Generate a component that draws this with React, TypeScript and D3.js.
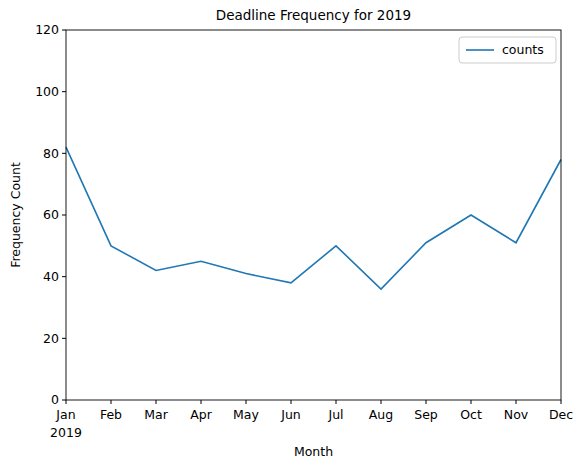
import * as d3 from 'd3'

const months = ['Jan', 'Feb', 'Mar', 'Apr', 'May', 'Jun', 'Jul', 'Aug', 'Sep', 'Oct', 'Nov', 'Dec']
const counts = [82, 50, 42, 45, 41, 38, 50, 36, 51, 60, 51, 78]
const yTicks = [0, 20, 40, 60, 80, 100, 120]

const W = 585
const H = 469
const m = { left: 66, right: 561, top: 30, bottom: 400 }
const font = 'DejaVu Sans, sans-serif'
const blue = '#1f77b4'

export default function App() {
  const x = d3.scalePoint<string>().domain(months).range([m.left, m.right])
  const y = d3.scaleLinear().domain([0, 120]).range([m.bottom, m.top])
  const line = d3
    .line<number>()
    .x((_, i) => x(months[i]) ?? 0)
    .y(d => y(d))

  return (
    <svg width={W} height={H} style={{ position: 'absolute', left: 0, top: 0, background: '#fff' }} fontFamily={font}>
      <text x={(m.left + m.right) / 2} y={20} textAnchor="middle" fontSize={13.5}>Deadline Frequency for 2019</text>
      <path d={line(counts) ?? ''} fill="none" stroke={blue} strokeWidth={1.6} />
      <rect x={m.left} y={m.top} width={m.right - m.left} height={m.bottom - m.top} fill="none" stroke="#000" strokeWidth={0.9} />
      {yTicks.map(t => (
        <g key={t}>
          <line x1={m.left - 4} x2={m.left} y1={y(t)} y2={y(t)} stroke="#000" />
          <text x={m.left - 7} y={y(t)} dy="0.35em" textAnchor="end" fontSize={12.5}>{t}</text>
        </g>
      ))}
      {months.map(mo => (
        <g key={mo}>
          <line x1={x(mo)} x2={x(mo)} y1={m.bottom} y2={m.bottom + 4} stroke="#000" />
          <text x={x(mo)} y={m.bottom + 19} textAnchor="middle" fontSize={12.5}>{mo}</text>
        </g>
      ))}
      <text x={m.left} y={m.bottom + 37} textAnchor="middle" fontSize={12.5}>2019</text>
      <text x={(m.left + m.right) / 2} y={456} textAnchor="middle" fontSize={12.5}>Month</text>
      <text transform={`translate(20,${(m.top + m.bottom) / 2}) rotate(-90)`} textAnchor="middle" fontSize={12.5}>Frequency Count</text>
      <rect x={459} y={37} width={97} height={26} rx={3} fill="#fff" stroke="#ccc" />
      <line x1={466} x2={494} y1={50} y2={50} stroke={blue} strokeWidth={1.6} />
      <text x={502} y={50} dy="0.35em" fontSize={12.5}>counts</text>
    </svg>
  )
}
